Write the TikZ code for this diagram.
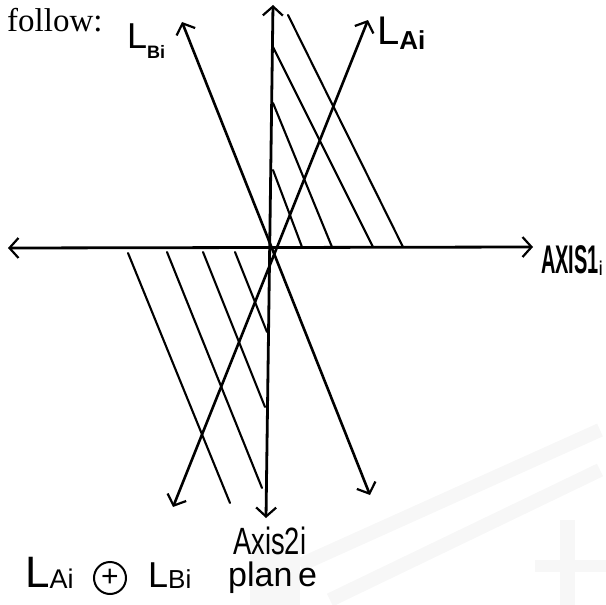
\documentclass[tikz,border=0pt]{standalone}
\usepackage{fontspec}
\setmainfont{Liberation Serif}
\newfontfamily\hand{Liberation Sans}
\usepackage{graphicx}
\usetikzlibrary{arrows.meta}
\tikzset{
  axisline/.style={line width=2.8pt, black, line cap=round},
  bigline/.style={line width=2.6pt, black, line cap=round},
  hatch/.style={line width=2.1pt, black, line cap=round},
  twobarb/.style={{Straight Barb[length=9pt,width=20pt,line width=2.2pt]}-{Straight Barb[length=9pt,width=20pt,line width=2.2pt]}},
  lbl/.style={inner sep=0pt, anchor=base west, font=\hand},
  wm/.style={line width=14pt, black!3, line cap=butt}
}
\begin{document}
\begin{tikzpicture}[x=1pt,y=-1pt]
\useasboundingbox (0,0) rectangle (606,605);
% faint watermark
\draw[wm] (300,565) -- (600,430);
\draw[wm] (330,600) -- (600,470);
\fill[black!3] (250,540) rectangle (300,605);
\fill[black!3] (560,520) rectangle (575,605);
\fill[black!3] (535,560) rectangle (606,572);

% coordinates
\coordinate (hl) at (8,248);
\coordinate (hr) at (533,247);
\coordinate (vt) at (273,5);
\coordinate (vb) at (266,518);
\coordinate (bt) at (182,22);
\coordinate (bb) at (370,495);
\coordinate (at) at (368,20);
\coordinate (ab) at (173,507);
% upper hatching
\coordinate (u1s) at (273,170); \coordinate (u1e) at (302,247);
\coordinate (u2s) at (273,103); \coordinate (u2e) at (332,247);
\coordinate (u3s) at (273,47);  \coordinate (u3e) at (373,247);
\coordinate (u4s) at (288,15);  \coordinate (u4e) at (403,247);
% lower hatching
\coordinate (d1s) at (128,253); \coordinate (d1e) at (230,503);
\coordinate (d2s) at (167,252); \coordinate (d2e) at (262,488);
\coordinate (d3s) at (203,252); \coordinate (d3e) at (265,407);
\coordinate (d4s) at (235,252); \coordinate (d4e) at (267,332);

% hatching
\foreach \n in {u1,u2,u3,u4,d1,d2,d3,d4}{\draw[hatch] (\n s) -- (\n e);}

% axes
\draw[axisline,twobarb] (hl) -- (hr);
\draw[axisline,twobarb] (vt) -- (vb);
% L lines
\draw[bigline,twobarb] (bt) -- (bb);
\draw[bigline,twobarb] (at) -- (ab);

% texts
\node[inner sep=0pt, anchor=base west] (follow) at (7,31) {\fontsize{33}{33}\selectfont follow:};
\node[lbl] (lbi) at (127,48) {\fontsize{36}{36}\selectfont L\raisebox{-10pt}{\fontsize{18}{18}\selectfont\bfseries Bi}};
\node[lbl] (lai) at (377,45) {\fontsize{40}{40}\selectfont L\raisebox{-5pt}{\fontsize{26}{26}\selectfont\bfseries Ai}};
\node[lbl] (ax1) at (541,273) {\scalebox{0.5}[1]{\fontsize{40}{40}\selectfont\bfseries AXIS1}\raisebox{-2pt}{\scalebox{0.6}[1]{\fontsize{20}{20}\selectfont\bfseries i}}};
\node[lbl] (ax2) at (233,554) {\scalebox{0.72}[1]{\fontsize{38}{38}\selectfont Axis2i}};
\node[lbl] (la) at (25,587) {\fontsize{44}{44}\selectfont L\raisebox{-1pt}{\fontsize{27}{27}\selectfont Ai}};
\node[circle, draw, line width=2pt, minimum size=32pt, inner sep=0pt, font=\hand\fontsize{30}{30}\selectfont] (oplus) at (110,578) {+};
\node[lbl] (lb) at (148,587) {\fontsize{36}{36}\selectfont L\raisebox{-1pt}{\fontsize{26}{26}\selectfont Bi}};
\node[lbl] (pl) at (228,586) {\fontsize{34}{34}\selectfont plan\,e};
\end{tikzpicture}
\end{document}
